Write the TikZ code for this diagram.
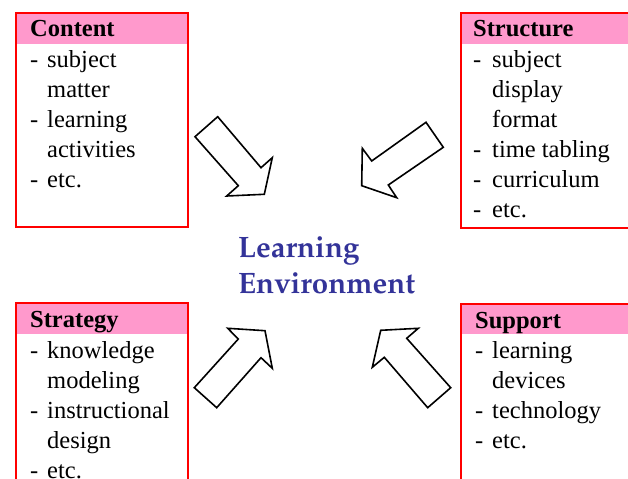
\documentclass[tikz,border=0pt]{standalone}
\usepackage[T1]{fontenc}
\usepackage{fontspec}
\setmainfont{Liberation Serif}
\definecolor{headpink}{RGB}{255,153,204}
\definecolor{envblue}{RGB}{51,51,153}
\newcommand{\itemfont}{\fontsize{24.5bp}{30bp}\selectfont}
\newcommand{\envfont}{\fontencoding{T1}\fontfamily{ppl}\fontseries{b}\fontsize{29.5bp}{36bp}\selectfont}

\tikzset{
  panel/.style={draw=red, line width=2.5bp},
  panelhead/.style={fill=headpink},
  headtext/.style={anchor=base west, inner sep=0pt, font=\itemfont\bfseries},
  entry/.style={anchor=base west, inner sep=0pt, font=\itemfont},
  bigarrow/.style={draw=black, fill=white, line width=1.6bp, line join=miter},
  envtext/.style={anchor=base west, inner sep=0pt, text=envblue, font=\envfont},
}

\begin{document}
\begin{tikzpicture}[x=1bp,y=-1bp]
    \useasboundingbox (0,0) rectangle (628,479);
    \clip (0,0) rectangle (628,479);

    % Content
    \fill[panelhead] (16,13) rectangle (188,44);
    \draw[panel] (16,13) rectangle (188,227);
    \node[headtext] (content) at (30,37) {Content};
    \foreach \d/\txt [count=\i] in {-/subject, /matter, -/learning, /activities, -/etc.}{
        \node[entry] (content-d\i) at (30,38+30*\i) {\d};
        \node[entry] (content-\i) at (47,38+30*\i) {\txt};
    }

    % Structure
    \fill[panelhead] (461,13) rectangle (660,44);
    \draw[panel] (461,13) rectangle (660,228);
    \node[headtext] (structure) at (473,37) {Structure};
    \foreach \d/\txt [count=\i] in {-/subject, /display, /format, -/time tabling, -/curriculum, -/etc.}{
        \node[entry] (structure-d\i) at (473,38+30*\i) {\d};
        \node[entry] (structure-\i) at (492,38+30*\i) {\txt};
    }

    % Strategy
    \fill[panelhead] (16,303) rectangle (188,334);
    \draw[panel] (16,303) rectangle (188,520);
    \node[headtext] (strategy) at (30,327) {Strategy};
    \foreach \d/\txt [count=\i] in {-/knowledge, /modeling, -/instructional, /design, -/etc.}{
        \node[entry] (strategy-d\i) at (30,328+30*\i) {\d};
        \node[entry] (strategy-\i) at (47,328+30*\i) {\txt};
    }

    % Support
    \fill[panelhead] (461,304) rectangle (660,334);
    \draw[panel] (461,304) rectangle (660,520);
    \node[headtext] (support) at (475,328) {Support};
    \foreach \d/\txt [count=\i] in {-/learning, /devices, -/technology, -/etc.}{
        \node[entry] (support-d\i) at (475,328+30*\i) {\d};
        \node[entry] (support-\i) at (492,328+30*\i) {\txt};
    }

    % block arrows
    \draw[bigarrow] (195,136.7) -- (217.7,116.7) -- (261,167.7) -- (272.3,157.7)
        -- (264.3,194.3) -- (226.7,196) -- (238.3,185.7) -- cycle;
    \draw[bigarrow] (426,122.3) -- (443.3,147.3) -- (388.3,185) -- (396.7,197.7)
        -- (361.7,185.7) -- (362.3,148.3) -- (371.7,161) -- cycle;
    \draw[bigarrow] (194.3,387.7) -- (238.3,339) -- (227.7,328.3) -- (265,330.7)
        -- (272.3,368.3) -- (261,357.7) -- (216.7,407.7) -- cycle;
    \draw[bigarrow] (450.7,387.7) -- (406.7,338.3) -- (418.3,328.3) -- (380.7,330.3)
        -- (372.3,367.3) -- (384.3,357.3) -- (427.7,407.7) -- cycle;

    % centre
    \node[envtext] (learning) at (238,257) {Learning};
    \node[envtext] (environment) at (238,293) {Environment};
\end{tikzpicture}
\end{document}
